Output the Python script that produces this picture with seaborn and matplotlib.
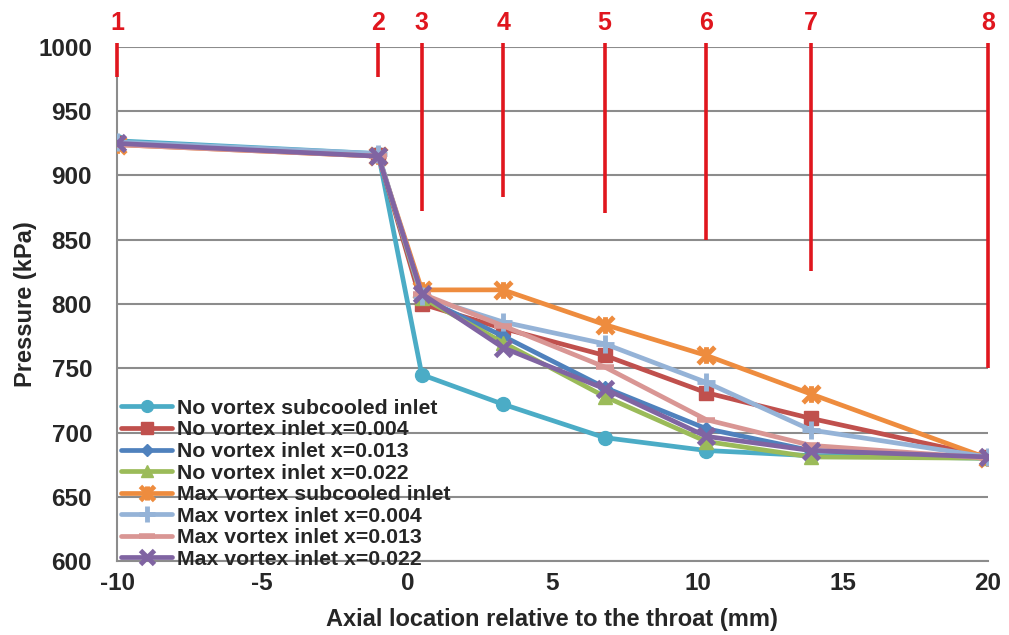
import numpy as np
import pandas as pd
import matplotlib
matplotlib.use("Agg")
import matplotlib.pyplot as plt
from matplotlib.path import Path
import seaborn as sns

# Axial measurement stations (mm from throat)
x_mm = [-10, -1.0, 0.5, 3.3, 6.8, 10.3, 13.9, 20]

# Pressure readings (kPa) for each test case
nv_subcooled = [927, 917, 745, 722, 696, 686, 682, 680]
nv_x004 = [925, 916, 800, 781, 760, 731, 711, 681]
nv_x013 = [925, 916, 805, 775, 735, 703, 686, 680]
nv_x022 = [925, 916, 805, 770, 728, 693, 681, 680]
mv_subcooled = [924, 915, 811, 811, 784, 760, 730, 680]
mv_x004 = [926, 917, 806, 786, 769, 739, 702, 681]
mv_x013 = [924, 915, 808, 783, 751, 710, 690, 680]
mv_x022 = [925, 915, 808, 766, 734, 697, 686, 681]

series_names = [
    "No vortex subcooled inlet",
    "No vortex inlet x=0.004",
    "No vortex inlet x=0.013",
    "No vortex inlet x=0.022",
    "Max vortex subcooled inlet",
    "Max vortex inlet x=0.004",
    "Max vortex inlet x=0.013",
    "Max vortex inlet x=0.022",
]
series_values = [nv_subcooled, nv_x004, nv_x013, nv_x022,
                 mv_subcooled, mv_x004, mv_x013, mv_x022]

# Pressure tap stations drawn as red markers above the plot
station_x = [-10, -1.0, 0.5, 3.3, 6.8, 10.3, 13.9, 20]
station_bottom = [977, 977, 872, 883, 871, 850, 826, 750]
station_top = 1003
station_labels = ["1", "2", "3", "4", "5", "6", "7", "8"]

df = pd.DataFrame(
    [(name, x, p) for name, vals in zip(series_names, series_values)
     for x, p in zip(x_mm, vals)],
    columns=["case", "x", "pressure"],
)

sns.set_style("white")
plt.rcParams["font.family"] = ["Liberation Sans", "DejaVu Sans"]
plt.rcParams["font.weight"] = "bold"
plt.rcParams["axes.unicode_minus"] = False

# Excel-style star marker: an X crossed by a vertical bar
star = Path(
    [(-1, -1), (1, 1), (-1, 1), (1, -1), (0, -1), (0, 1)],
    [Path.MOVETO, Path.LINETO, Path.MOVETO, Path.LINETO, Path.MOVETO, Path.LINETO],
)

colors = ["#4BACC6", "#C0504D", "#4F81BD", "#9BBB59",
          "#EE8C3E", "#95B3D7", "#D99694", "#8064A2"]
markers = ["o", "s", "D", "^", star, "+", "_", "x"]
msizes = [10, 10, 7.5, 10, 12, 13, 13, 12]
mews = [1, 1, 1, 1, 3.5, 3.5, 4, 3.5]

fig = plt.figure(figsize=(10.09, 6.35), dpi=100)
ax = fig.add_axes([0.116, 0.1165, 0.863, 0.8095])

for name, c, m, ms, mew in zip(series_names, colors, markers, msizes, mews):
    sub = df[df["case"] == name]
    sns.lineplot(data=sub, x="x", y="pressure", ax=ax, color=c, label=name,
                 marker=m, markersize=ms, markeredgewidth=mew,
                 markeredgecolor=c, markerfacecolor=c, linewidth=3.4,
                 sort=False, zorder=3)

ax.set_xlim(-10, 20)
ax.set_ylim(600, 1000)
ax.set_xticks(np.arange(-10, 21, 5))
ax.set_yticks(np.arange(600, 1001, 50))
ax.yaxis.grid(True, color="#8c8c8c", linewidth=1.5)
ax.xaxis.grid(False)
ax.set_axisbelow(True)
for s in ["top", "right"]:
    ax.spines[s].set_visible(False)
ax.spines["left"].set_color("#8c8c8c")
ax.spines["left"].set_linewidth(1.5)
ax.spines["bottom"].set_color("#8c8c8c")
ax.spines["bottom"].set_linewidth(1.5)
ax.tick_params(axis="both", length=0, labelsize=17.5)
ax.tick_params(axis="x", pad=8)
ax.tick_params(axis="y", pad=18)
for lab in ax.get_xticklabels() + ax.get_yticklabels():
    lab.set_fontweight("bold")

ax.set_xlabel("Axial location relative to the throat (mm)", fontsize=17,
              fontweight="bold", labelpad=9)
ax.set_ylabel("Pressure (kPa)", fontsize=17, fontweight="bold", labelpad=1)

# Station markers
for sx, sb, sl in zip(station_x, station_bottom, station_labels):
    ax.plot([sx, sx], [sb, station_top], color="#E0161E", linewidth=2.6,
            clip_on=False, zorder=4, solid_capstyle="butt")
    ax.text(sx, 1019, sl, color="#E0161E", fontsize=18, fontweight="bold",
            ha="center", va="center", clip_on=False)

leg = ax.legend(loc="lower left", bbox_to_anchor=(0.005, -0.015),
                frameon=False, prop={"weight": "bold", "size": 15.3},
                handlelength=2.4, handletextpad=0.2, labelspacing=0.12,
                borderpad=0, borderaxespad=0, markerscale=0.85)

fig.savefig("out.png", dpi=100)
